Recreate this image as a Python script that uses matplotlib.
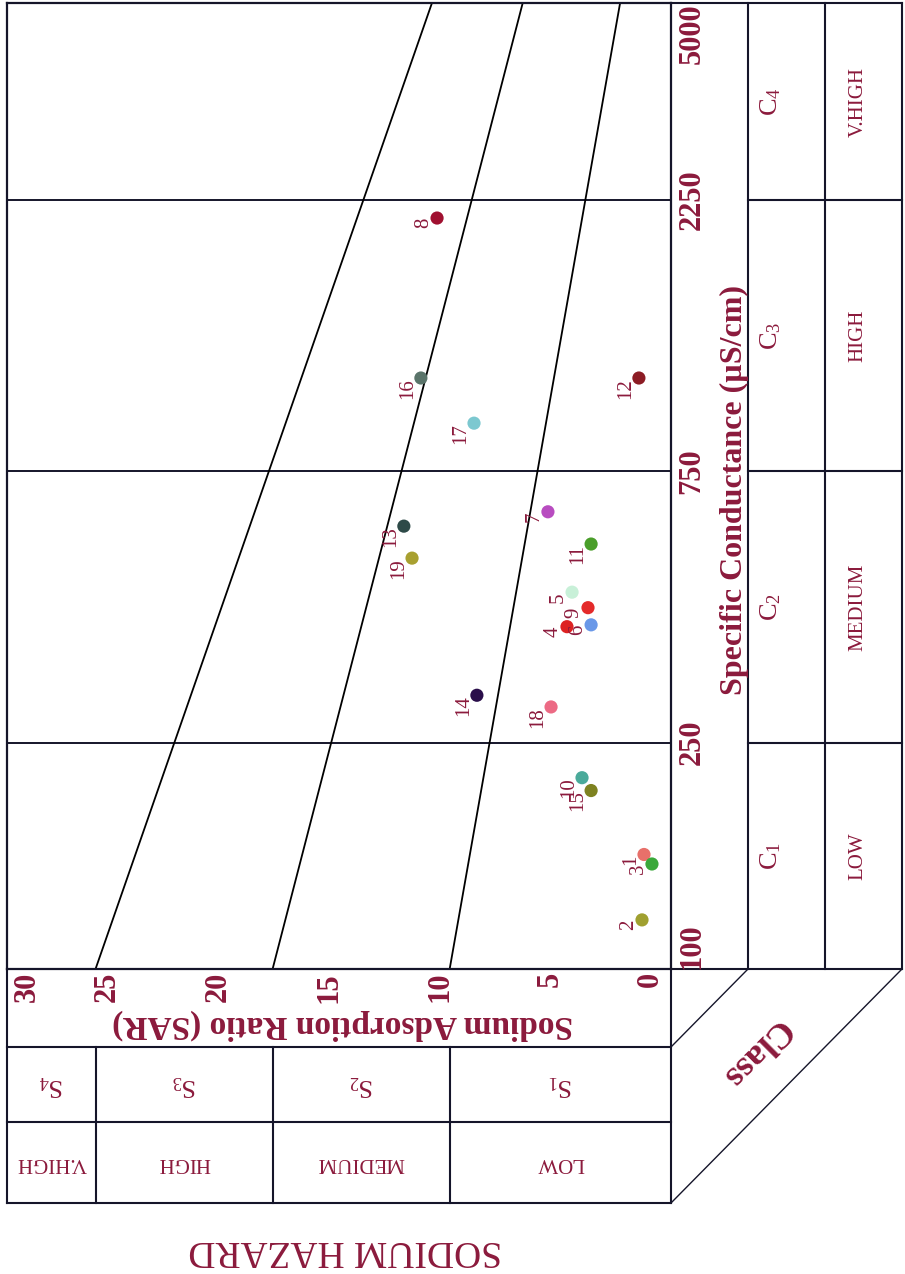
import matplotlib
matplotlib.use("Agg")
import matplotlib.pyplot as plt
from matplotlib.lines import Line2D
from matplotlib.transforms import blended_transform_factory, offset_copy

plt.rcParams["mathtext.fontset"] = "custom"
plt.rcParams["mathtext.rm"] = "Liberation Serif"
plt.rcParams["mathtext.it"] = "Liberation Serif:italic"
plt.rcParams["mathtext.bf"] = "Liberation Serif:bold"

# ---- sample data: sodium adsorption ratio and specific conductance ----
sample_ids = ["1", "2", "3", "4", "5", "6", "7", "8", "9", "10",
              "11", "12", "13", "14", "15", "16", "17", "18", "19"]
sample_sar = [1.22, 1.31, 0.86, 4.70, 4.47, 3.61, 5.56, 10.57, 3.75, 4.02,
              3.61, 1.45, 12.07, 8.77, 3.61, 11.30, 8.90, 5.42, 11.70]
sample_ec = [159, 122, 153, 400, 460, 403, 637, 2093, 432, 217,
             559, 1095, 601, 303, 206, 1095, 912, 289, 528]
sample_colors = ["#e8706a", "#a0a030", "#3aa83a", "#dd2222", "#c8f0d8",
                 "#6a98e8", "#b84cc0", "#a01030", "#e42a2a", "#4aaa9a",
                 "#4a9e2a", "#8c1c24", "#2e4a48", "#2a0e4a", "#7e8220",
                 "#5a746a", "#7cc8d0", "#ec6a84", "#a8a030"]

# ---- axes, class limits and hazard boundaries ----
ec_ticks = [100, 250, 750, 2250, 5000]
sar_ticks = [0, 5, 10, 15, 20, 25, 30]
ec_class_bounds = [250, 750, 2250]
ec_class_centers = [158, 433, 1299, 3354]
ec_class_codes = [r"$\mathregular{C_1}$", r"$\mathregular{C_2}$",
                  r"$\mathregular{C_3}$", r"$\mathregular{C_4}$"]
sar_class_bounds = [10, 18, 26]
sar_class_centers = [5, 14, 22, 28]
sar_class_codes = [r"$\mathregular{S_1}$", r"$\mathregular{S_2}$",
                   r"$\mathregular{S_3}$", r"$\mathregular{S_4}$"]
class_names = ["LOW", "MEDIUM", "HIGH", "V.HIGH"]
# sodium hazard boundary lines: SAR at EC = 100 and at EC = 5000
sar_at_ec_low = [10, 18, 26]
sar_at_ec_high = [2.3, 6.7, 10.8]

TXT = "#8b1a3c"
LINE = "#15152a"
SERIF = "Liberation Serif"

W, H = 905, 1274
fig = plt.figure(figsize=(W / 100, H / 100), dpi=100)
fig.patch.set_facecolor("white")


def fx(px):
    return px / W


def fy(py):
    return 1 - py / H


L, R, T, B = 7, 671, 3, 969
ax = fig.add_axes([fx(L), fy(B), fx(R) - fx(L), fy(T) - fy(B)])
ax.set_yscale("log")
ax.set_xlim(30, 0)
ax.set_ylim(100, 5000)
ax.set_xticks([])
ax.set_yticks([])
ax.set_yticks([], minor=True)
for sp in ax.spines.values():
    sp.set_linewidth(1.6)
    sp.set_color(LINE)

for e in ec_class_bounds:
    ax.axhline(e, color=LINE, lw=1.4, zorder=1)

for a, b in zip(sar_at_ec_low, sar_at_ec_high):
    ax.plot([a, b], [ec_ticks[0], ec_ticks[-1]], color="black", lw=1.3, zorder=2)

ax.scatter(sample_sar, sample_ec, c=sample_colors, s=90, edgecolors="none", zorder=3)
for sid, s, e in zip(sample_ids, sample_sar, sample_ec):
    ax.annotate(sid, (s, e), xytext=(-3, 0), textcoords="offset points",
                rotation=90, ha="right", va="top", fontsize=15,
                family=SERIF, color=TXT, zorder=4)

trans_ec = blended_transform_factory(fig.transFigure, ax.transData)
trans_sar = blended_transform_factory(ax.transData, fig.transFigure)


def fline(x0, y0, x1, y1, lw=1.5, **kw):
    fig.add_artist(Line2D([fx(x0), fx(x1)], [fy(y0), fy(y1)],
                          transform=fig.transFigure, color=LINE, lw=lw, **kw))


# ---- right-hand table (salinity hazard) ----
fline(R, T, 902, T)
fline(R, B, 902, B)
for xv in (748, 825, 902):
    fline(xv, T, xv, B)
for e in ec_class_bounds:
    fig.add_artist(Line2D([fx(748), fx(902)], [e, e], transform=trans_ec,
                          color=LINE, lw=1.5))

for e in ec_ticks:
    va = "center"
    if e == ec_ticks[0]:
        va = "bottom"
    elif e == ec_ticks[-1]:
        va = "top"
    fig.text(fx(692), e, str(e), transform=trans_ec, rotation=90,
             ha="center", va=va, fontsize=22, fontweight="bold",
             family=SERIF, color=TXT)

fig.text(fx(734), fy(490), "Specific Conductance (µS/cm)", rotation=90,
         ha="center", va="center", fontsize=23, fontweight="bold",
         family=SERIF, color=TXT)

for e, code, name in zip(ec_class_centers, ec_class_codes, class_names):
    fig.text(fx(771), e, code, transform=trans_ec, rotation=90,
             ha="center", va="center", fontsize=19, family=SERIF, color=TXT)
    fig.text(fx(858), e, name, transform=trans_ec, rotation=90,
             ha="center", va="center", fontsize=15, family=SERIF, color=TXT)

# ---- bottom table (sodium hazard) ----
fline(L, B, L, 1203)
fline(R, B, R, 1203)
for yv in (1047, 1122, 1203):
    fline(L, yv, R, yv)
for s in sar_class_bounds:
    fig.add_artist(Line2D([s, s], [fy(1047), fy(1203)], transform=trans_sar,
                          color=LINE, lw=1.5))

for s in sar_ticks:
    if s == sar_ticks[0]:
        ha, dx = "right", -6
    elif s == sar_ticks[-1]:
        ha, dx = "left", 6
    else:
        ha, dx = "center", -10
    tr = offset_copy(trans_sar, fig=fig, x=dx, y=0, units="dots")
    fig.text(s, fy(972), str(s), transform=tr, rotation=90, ha=ha, va="top",
             fontsize=22, fontweight="bold", family=SERIF, color=TXT)

fig.text(fx(343), fy(1025), "Sodium Adsorption Ratio (SAR)", rotation=180,
         ha="center", va="center", fontsize=24, fontweight="bold",
         family=SERIF, color=TXT)

for s, code, name in zip(sar_class_centers, sar_class_codes, class_names):
    fig.text(s, fy(1085), code, transform=trans_sar, rotation=180,
             ha="center", va="center", fontsize=19, family=SERIF, color=TXT)
    fig.text(s, fy(1162), name, transform=trans_sar, rotation=180,
             ha="center", va="center", fontsize=15, family=SERIF, color=TXT)

fig.text(fx(345), fy(1250), "SODIUM HAZARD", rotation=180,
         ha="center", va="center", fontsize=27, family=SERIF, color=TXT)

# ---- corner connecting the two tables ----
fline(748, B, R, 1047, lw=1.0)
fline(902, B, R, 1203, lw=1.0)
fig.text(fx(755), fy(1052), "Class", rotation=225, rotation_mode="anchor",
         ha="center", va="center", fontsize=26, fontweight="bold",
         family=SERIF, color=TXT)

fig.savefig("out.png", dpi=100, facecolor="white")
